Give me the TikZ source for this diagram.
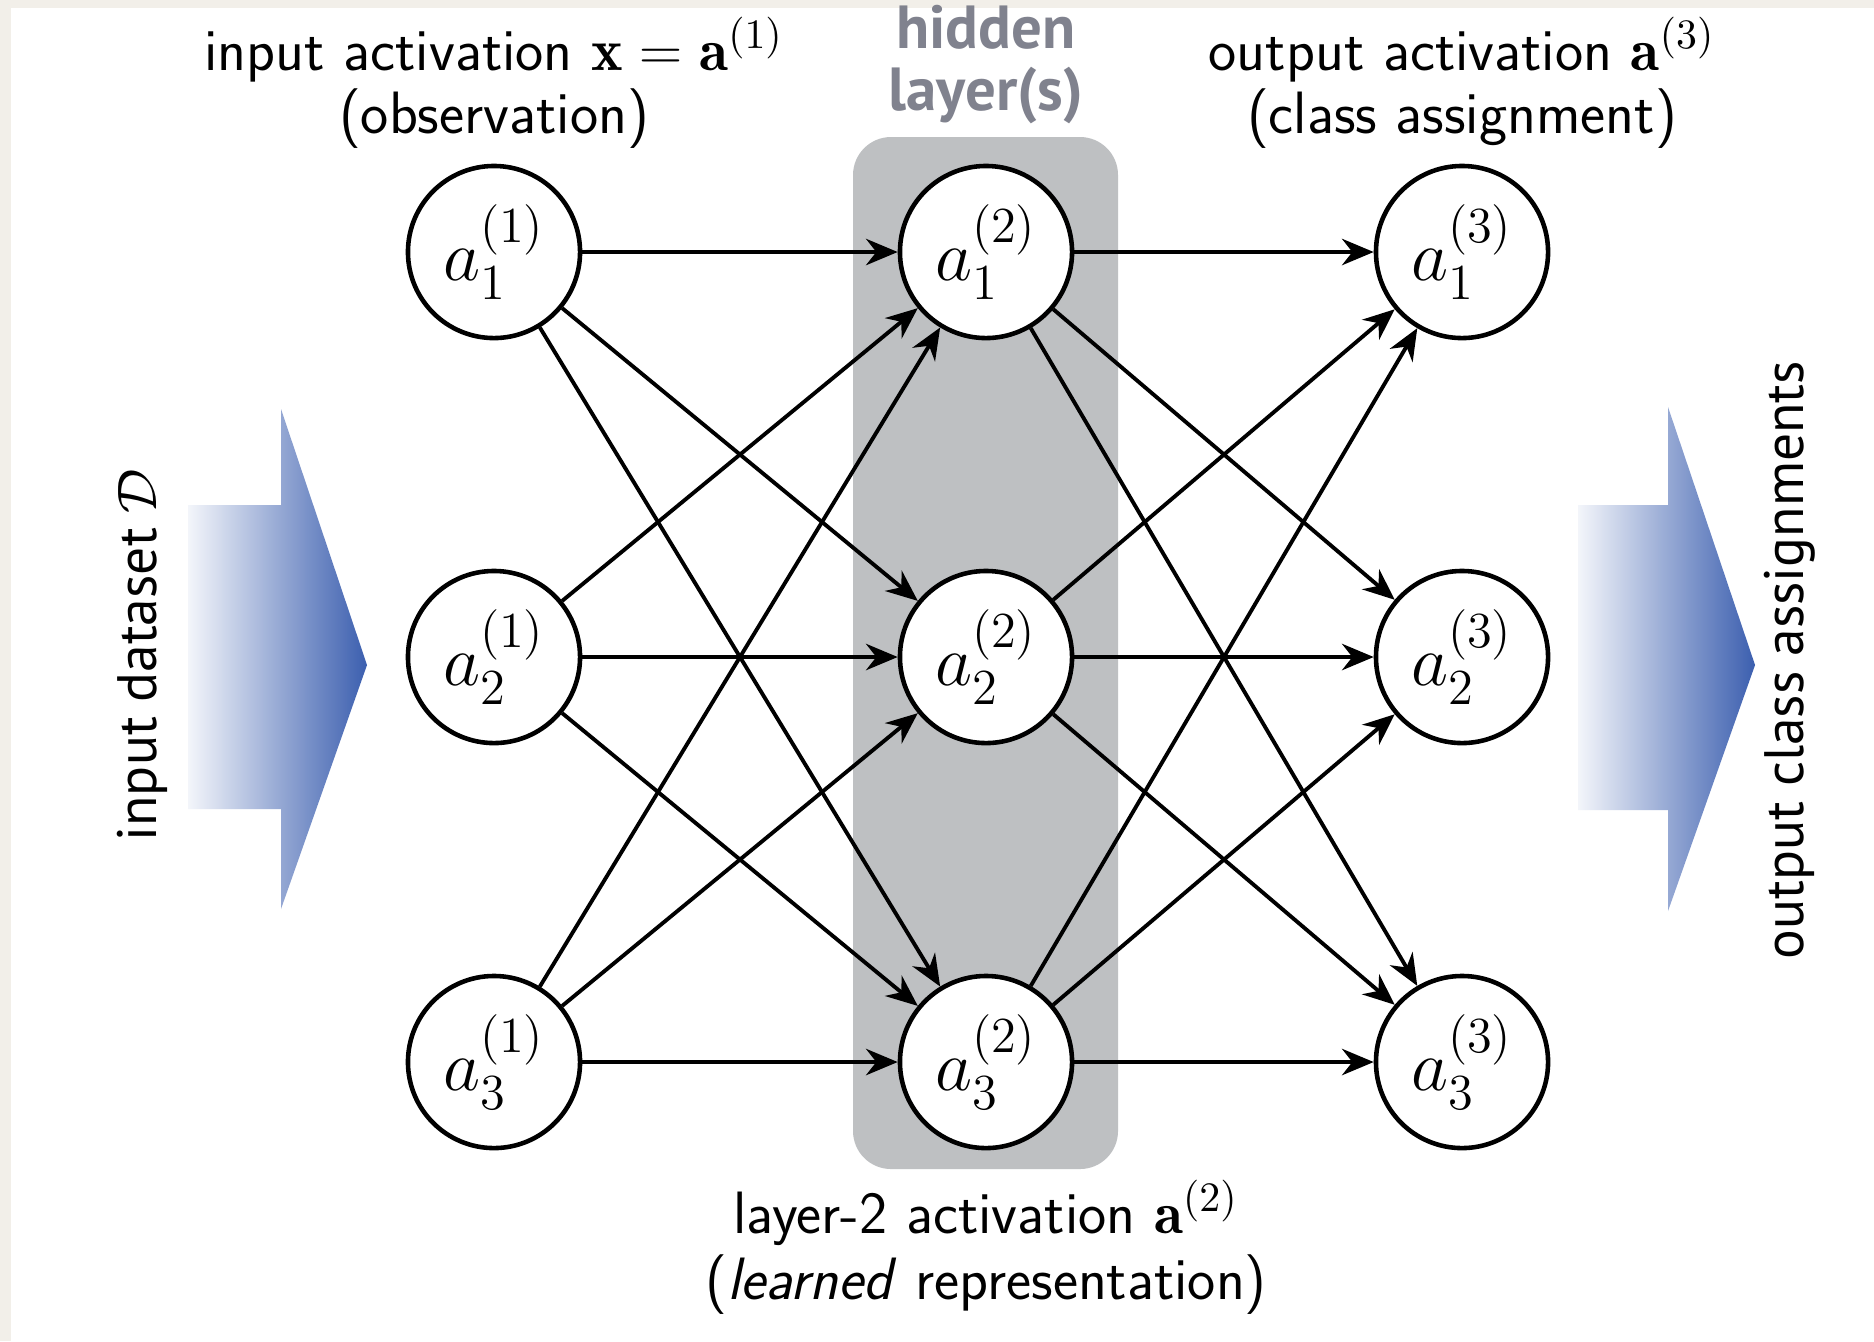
\RequirePackage{fix-cm}
\documentclass[tikz,border=0pt]{standalone}
\usepackage{amsmath}
\usepackage{amssymb}
\usepackage{fontspec}
\usepackage{tikz}
\usepackage{xcolor}
\usetikzlibrary{arrows.meta}
\newfontfamily\sidefont{PT Sans}
\definecolor{arrowblue}{RGB}{60,95,175}
\definecolor{boxgray}{RGB}{190,192,194}
\definecolor{hidtext}{RGB}{128,130,142}
\definecolor{pagebeige}{RGB}{242,239,233}
\tikzset{
  neuron/.style={circle,draw,line width=1.3pt,fill=white,minimum size=1.72cm,inner sep=0pt,font=\fontsize{20.5}{24}\selectfont},
  conn/.style={line width=1.1pt,-{Stealth[length=9pt,width=7.5pt]}},
  lbl/.style={anchor=base,font=\fontsize{17}{20}\selectfont\sffamily},
  sidelbl/.style={rotate=90,font=\fontsize{15.8}{19}\selectfont\sidefont},
}

\begin{document}
\begin{tikzpicture}[x=0.01cm,y=0.01cm]
  \useasboundingbox (0,0) rectangle (1874,-1341);
  % page
  \fill[pagebeige] (0,0) rectangle (1874,-1341);
  \fill[white] (11,-8) rectangle (1874,-1341);
  % hidden layer box
  \fill[boxgray,rounded corners=0.38cm] (853,-137) rectangle (1118,-1169);
  \node[anchor=base,font=\fontsize{17.3}{20}\selectfont\sidefont\bfseries,text=hidtext] (hid1) at (986,-48) {hidden};
  \node[anchor=base,font=\fontsize{17.3}{20}\selectfont\sidefont\bfseries,text=hidtext] (hid2) at (986,-110) {layer(s)};
  % neurons
  \foreach \l/\x in {1/494,2/986,3/1462}
    \foreach \i/\y in {1/252,2/657,3/1062}
      \node[neuron] (a\l\i) at (\x,-\y) {$a_{\i}^{(\l)}$};
  % connections
  \foreach \i in {1,2,3}
    \foreach \j in {1,2,3} {
      \draw[conn] (a1\i) -- (a2\j);
      \draw[conn] (a2\i) -- (a3\j);
    }
  % big arrows
  \shade[left color=arrowblue!6,right color=arrowblue] (188,-505) -- (281,-505) -- (281,-409) -- (367,-665)
    -- (281,-909) -- (281,-809) -- (188,-809) -- cycle;
  \shade[left color=arrowblue!6,right color=arrowblue] (1578,-505) -- (1668,-505) -- (1668,-407) -- (1755,-665)
    -- (1668,-911) -- (1668,-810) -- (1578,-810) -- cycle;
  \node[sidelbl] (dset) at (142,-655) {input dataset $\mathcal{D}$};
  \node[sidelbl] (cls) at (1790,-660) {output class assignments};
  % labels
  \node[lbl] (inlab1) at (494,-70) {input activation $\mathbf{x}=\mathbf{a}^{(1)}$};
  \node[lbl] (inlab2) at (494,-133) {(observation)};
  \node[lbl] (outlab1) at (1462,-70) {output activation $\mathbf{a}^{(3)}$};
  \node[lbl] (outlab2) at (1462,-133) {(class assignment)};
  \node[lbl] (hidlab1) at (986,-1233) {layer-2 activation $\mathbf{a}^{(2)}$};
  \node[lbl] (hidlab2) at (986,-1299) {(\textit{learned} representation)};
\end{tikzpicture}
\end{document}
